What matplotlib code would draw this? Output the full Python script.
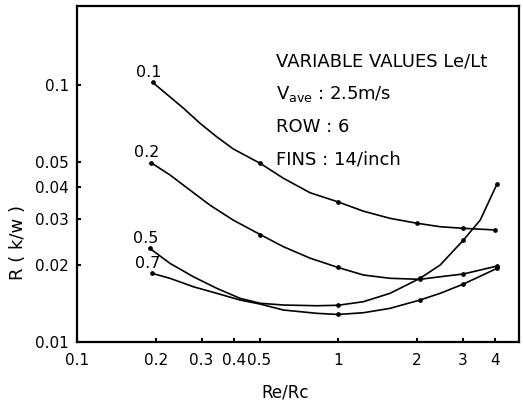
import matplotlib
matplotlib.use("Agg")
import matplotlib.pyplot as plt
from matplotlib.ticker import FixedLocator, FixedFormatter, NullLocator


# Re/Rc positions read along each curve, and R (K/W) at those positions
RATIO_01 = [0.195, 0.227, 0.256, 0.296, 0.343, 0.397, 0.503, 0.617, 0.781, 1.0,
            1.25, 1.58, 2.0, 2.46, 3.02, 4.0]
R_01 = [0.1024, 0.0900, 0.0812, 0.0710, 0.0629, 0.0564, 0.0496, 0.0434, 0.0381, 0.0351,
        0.0323, 0.0303, 0.0290, 0.0281, 0.0277, 0.0273]
DOTS_01 = [0, 6, 9, 12, 14, 15]

RATIO_02 = [0.192, 0.227, 0.271, 0.323, 0.397, 0.503, 0.617, 0.781, 1.0, 1.25,
            1.58, 2.06, 2.46, 3.02, 4.06]
R_02 = [0.0499, 0.0447, 0.0390, 0.0341, 0.0298, 0.0262, 0.0235, 0.0212, 0.0195, 0.01823,
        0.0177, 0.01754, 0.01795, 0.0184, 0.01975]
DOTS_02 = [0, 5, 8, 11, 13, 14]

RATIO_05 = [0.19, 0.227, 0.279, 0.343, 0.421, 0.503, 0.617, 0.829, 1.0, 1.25,
            1.58, 2.06, 2.46, 3.02, 3.5, 4.06]
R_05 = [0.02315, 0.02024, 0.01795, 0.01618, 0.01479, 0.01415, 0.01393, 0.01384, 0.0139, 0.01435,
        0.01547, 0.0177, 0.01994, 0.02494, 0.0298, 0.0412]
DOTS_05 = [0, 8, 11, 13, 15]

RATIO_07 = [0.194, 0.227, 0.279, 0.343, 0.421, 0.503, 0.617, 0.829, 1.0, 1.25,
            1.58, 2.06, 2.46, 3.02, 4.06]
R_07 = [0.0185, 0.0177, 0.01641, 0.01547, 0.01457, 0.01405, 0.01332, 0.01293, 0.0128, 0.0130,
        0.01352, 0.01457, 0.01547, 0.01681, 0.01935]
DOTS_07 = [0, 8, 11, 13, 14]

CURVE_LABELS = ["0.1", "0.2", "0.5", "0.7"]

X_TICKS = [0.1, 0.2, 0.3, 0.4, 0.5, 1, 2, 3, 4]
X_TICK_LABELS = ["0.1", "0.2", "0.3", "0.4", "0.5", "1", "2", "3", "4"]
Y_TICKS = [0.01, 0.02, 0.03, 0.04, 0.05, 0.1]
Y_TICK_LABELS = ["0.01", "0.02", "0.03", "0.04", "0.05", "0.1"]

NOTES = ["VARIABLE VALUES Le/Lt", r"V$_{\mathregular{ave}}$ : 2.5m/s", "ROW : 6", "FINS : 14/inch"]


def main():
    plt.rcParams["font.family"] = "DejaVu Sans"
    plt.rcParams["mathtext.default"] = "regular"

    fig = plt.figure(figsize=(5.23, 4.07), dpi=100)
    ax = fig.add_axes([0.1472, 0.1597, 0.8452, 0.8253])

    series = [
        (RATIO_01, R_01, DOTS_01),
        (RATIO_02, R_02, DOTS_02),
        (RATIO_05, R_05, DOTS_05),
        (RATIO_07, R_07, DOTS_07),
    ]
    for (xs, ys, dots), label in zip(series, CURVE_LABELS):
        ax.plot(xs, ys, color="black", lw=1.2, marker="o", ms=2.4,
                markevery=dots, solid_joinstyle="round", solid_capstyle="round")
        ax.annotate(label, (xs[0], ys[0]), xytext=(-3, 2), textcoords="offset points",
                    ha="center", va="bottom", fontsize=11.5)

    ax.set_xscale("log")
    ax.set_yscale("log")
    ax.set_xlim(0.1, 4.93)
    ax.set_ylim(0.01, 0.203)

    ax.xaxis.set_major_locator(FixedLocator(X_TICKS))
    ax.xaxis.set_major_formatter(FixedFormatter(X_TICK_LABELS))
    ax.xaxis.set_minor_locator(NullLocator())
    ax.yaxis.set_major_locator(FixedLocator(Y_TICKS))
    ax.yaxis.set_major_formatter(FixedFormatter(Y_TICK_LABELS))
    ax.yaxis.set_minor_locator(NullLocator())

    ax.tick_params(direction="in", length=3, width=1.5, labelsize=11)
    ax.tick_params(axis="x", pad=8)
    ax.tick_params(axis="y", pad=6)
    for side in ax.spines.values():
        side.set_linewidth(1.6)

    ax.set_xlabel("Re/Rc", fontsize=12)
    ax.xaxis.set_label_coords(0.47, -0.125)
    ax.set_ylabel("R ( k/w )", fontsize=13)
    ax.yaxis.set_label_coords(-0.112, 0.295)

    for i, line in enumerate(NOTES):
        ax.text(0.45, 0.835 - i * 0.097, line, transform=ax.transAxes,
                fontsize=13, ha="left", va="center")

    fig.savefig("out.png", dpi=100)
    plt.close(fig)


if __name__ == "__main__":
    main()
